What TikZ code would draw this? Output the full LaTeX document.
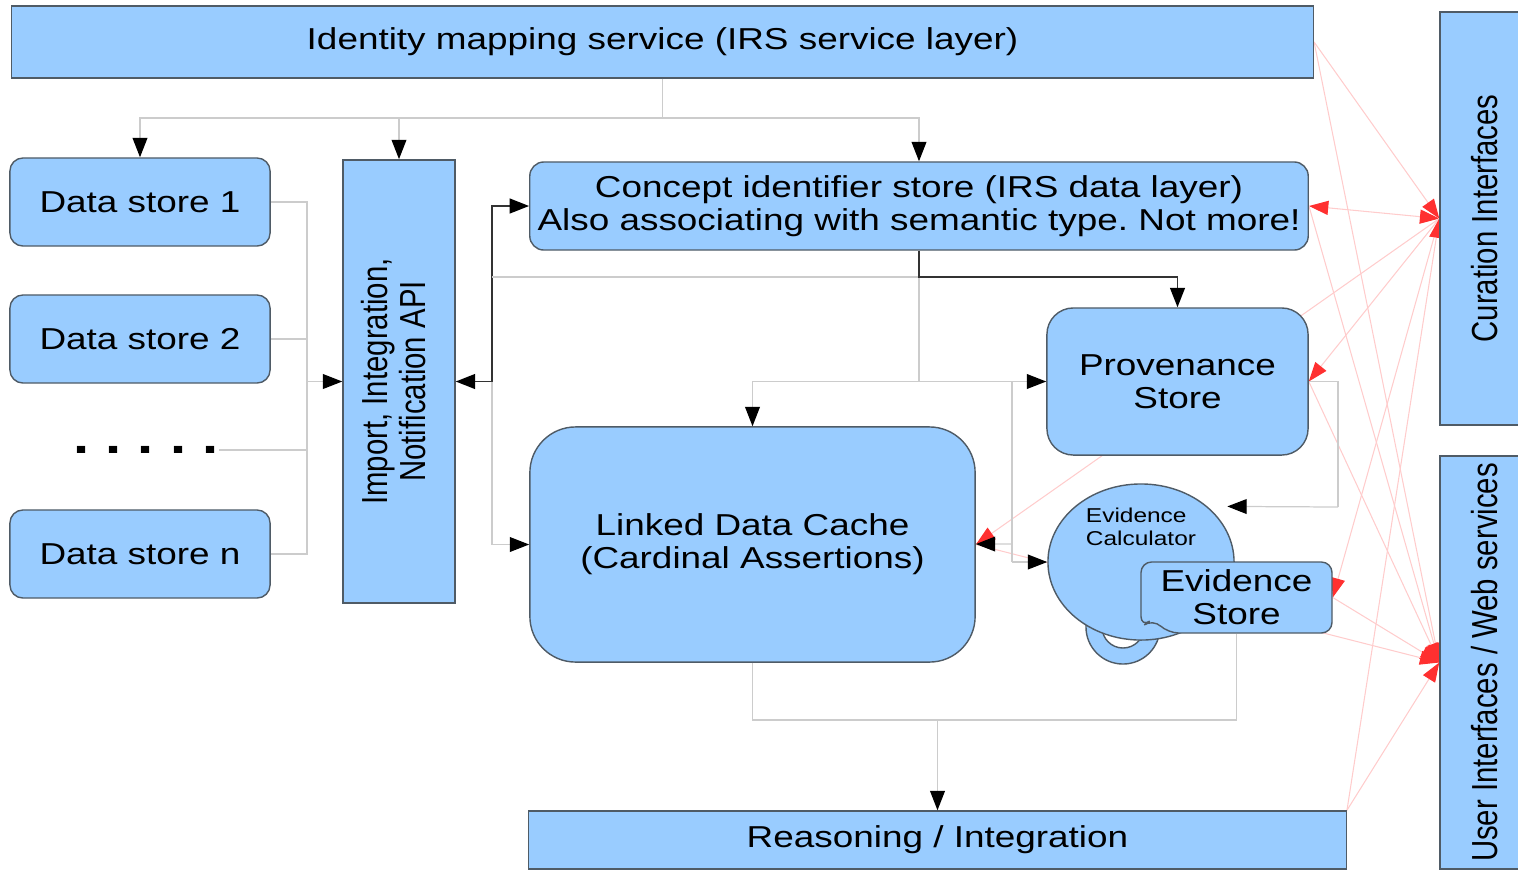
\documentclass[tikz,border=0pt]{standalone}
\usepackage{fontspec}
\setmainfont{Liberation Sans}[FakeStretch=1.22]
\newfontfamily\tallfont{Liberation Sans}[FakeStretch=0.81]
\usetikzlibrary{arrows.meta,shapes.geometric,backgrounds}
\definecolor{boxblue}{HTML}{99CCFF}
\definecolor{boxedge}{HTML}{4F5B66}
\definecolor{lgrey}{HTML}{CCCCCC}
\definecolor{dgrey}{HTML}{333333}
\definecolor{pinkline}{HTML}{FFCCCC}
\definecolor{tipred}{HTML}{FF3030}
\frenchspacing
\begin{document}
\begin{tikzpicture}[x=0.01cm, y=-0.01cm,
  flat/.style={rectangle, draw=boxedge, fill=boxblue, line width=0.4pt, inner sep=0pt, align=center, font=\fontsize{8.6}{9.3}\selectfont},
  store/.style={flat, rounded corners=3.7pt},
  side/.style={flat, font=\tallfont\fontsize{10.3}{10.9}\selectfont},
  gl/.style={draw=lgrey, line width=0.35pt},
  dl/.style={draw=dgrey, line width=0.5pt},
  pl/.style={draw=pinkline, line width=0.3pt},
  arr/.style={>={Triangle[length=5.5pt,width=4.2pt,color=black,fill=black]}, ->},
  rarr/.style={>={Triangle[length=5.5pt,width=4pt,color=tipred,fill=tipred]}, ->}
]
\useasboundingbox (0,0) rectangle (1518,872);

\node[flat, minimum width=13.01cm, minimum height=0.72cm] (ims) at (662.5,42) {Identity mapping service (IRS service layer)};
\node[store, minimum width=2.6cm, minimum height=0.88cm] (ds1) at (140,202) {Data store 1};
\node[store, minimum width=2.6cm, minimum height=0.88cm] (ds2) at (140,339) {Data store 2};
\node[inner sep=0pt, font=\bfseries\fontsize{13.5}{13.5}\selectfont] (dots) at (146,450) {. . . . .};
\node[store, minimum width=2.6cm, minimum height=0.88cm] (dsn) at (140,554) {Data store n};
\node[side, minimum width=1.12cm, minimum height=4.43cm] (api) at (399,381.5) {\rotatebox{90}{\begin{tabular}{@{}c@{}}Import, Integration,\\Notification API\end{tabular}}};
\node[store, rounded corners=4pt, minimum width=7.78cm, minimum height=0.88cm] (cis) at (919,206) {Concept identifier store (IRS data layer)\\Also associating with semantic type. Not more!};
\node[store, rounded corners=7.5pt, minimum width=2.61cm, minimum height=1.47cm] (prov) at (1177.5,381.5) {Provenance\\Store};
\node[store, rounded corners=13pt, minimum width=4.45cm, minimum height=2.35cm] (ldc) at (752.5,544.5) {Linked Data Cache\\(Cardinal Assertions)};

\node[circle, draw=boxedge, fill=boxblue, line width=0.4pt, minimum size=0.74cm, inner sep=0pt] (ringout) at (1123,627) {};
\node[circle, draw=boxedge, fill=white, line width=0.4pt, minimum size=0.42cm, inner sep=0pt] (ringin) at (1123,627) {};
\node[ellipse, draw=boxedge, fill=boxblue, line width=0.4pt, minimum width=1.86cm, minimum height=1.56cm, inner sep=0pt] (evcalc) at (1141,562) {};
\node[align=left, inner sep=0pt, font=\fontsize{5.7}{6.5}\selectfont] (evcalctxt) at (1141,527) {Evidence\\Calculator};
\draw[draw=boxedge, fill=boxblue, line width=0.4pt, rounded corners=3pt] (1141,627) -- (1141,562) -- (1332,562) -- (1332,633) -- (1168,633) -- (1153,619) -- cycle;
\node[inner sep=0pt, align=center, font=\fontsize{8.6}{9.3}\selectfont, minimum width=1.91cm, minimum height=0.71cm] (evs) at (1236.5,597.5) {Evidence\\Store};

\node[flat, minimum width=8.17cm, minimum height=0.58cm] (reas) at (937.5,840) {Reasoning / Integration};
\node[side, minimum width=0.9cm, minimum height=4.13cm] (cur) at (1485,218.5) {\rotatebox{90}{Curation Interfaces}};
\node[side, minimum width=0.9cm, minimum height=4.13cm] (ui) at (1485,662.5) {\rotatebox{90}{User Interfaces / Web services}};

\coordinate (j1) at (662.5,118);
\coordinate (bus) at (307,381.5);
\coordinate (apiJ) at (492,381.5);
\coordinate (m1) at (492,277);
\coordinate (m2) at (919,277);
\coordinate (m3) at (919,381.5);
\coordinate (q1) at (1012,381.5);
\coordinate (q2) at (1012,562);
\coordinate (q3) at (1012,544);
\coordinate (pe1) at (1338,381.5);
\coordinate (pe2) at (1338,507);
\coordinate (b2) at (937.5,720);

\draw[gl] (ims) -- (j1);
\draw[gl, arr] (j1) -| (ds1);
\draw[gl, arr] (j1) -| (api);
\draw[gl, arr] (j1) -| (cis);
\draw[gl] (ds1) -| (bus);
\draw[gl] (ds2) -| (bus);
\draw[gl] (dots) -| (bus);
\draw[gl] (dsn) -| (bus);
\draw[gl, arr] (bus) -- (api);
\draw[dl, arr, <->] (api) -- (apiJ) |- (cis);
\draw[gl, arr] (apiJ) |- (ldc);
\draw[gl] (m1) -- (m2) -- (m3);
\draw[gl, arr] (m3) -| (ldc);
\draw[gl, arr] (m3) -- (prov);
\draw[dl, arr] (cis) -- (m2) -| (prov);
\draw[gl] (prov) -- (pe1) -- (pe2);
\draw[gl, arr, shorten >=0.2cm] (pe2) -- (evcalc.north east);
\draw[gl] (q1) -- (q2);
\draw[gl, arr] (q2) -- (evcalc);
\draw[gl, arr] (q3) -- (ldc);
\draw[gl] (ldc) |- (b2) -| (evs);
\draw[gl, arr] (b2) -- (reas);

\begin{scope}[on background layer]
\draw[pl, rarr] (ims.east) -- (cur.west);
\draw[pl, rarr] (ims.east) -- (ui.west);
\draw[pl, rarr, <->] (cis.east) -- (cur.west);
\draw[pl, rarr] (cis.east) -- (ui.west);
\draw[pl, rarr] (cur.west) -- (ldc.east);
\draw[pl, rarr] (cur.west) -- (prov.east);
\draw[pl, rarr] (prov.east) -- (ui.west);
\draw[pl, rarr] (cur.west) -- (evs.east);
\draw[pl, rarr] (evs.east) -- (ui.west);
\draw[pl, rarr] (ldc.east) -- (ui.west);
\draw[pl, rarr] (reas.north east) -- (cur.west);
\draw[pl, rarr] (reas.north east) -- (ui.west);
\end{scope}
\end{tikzpicture}
\end{document}
